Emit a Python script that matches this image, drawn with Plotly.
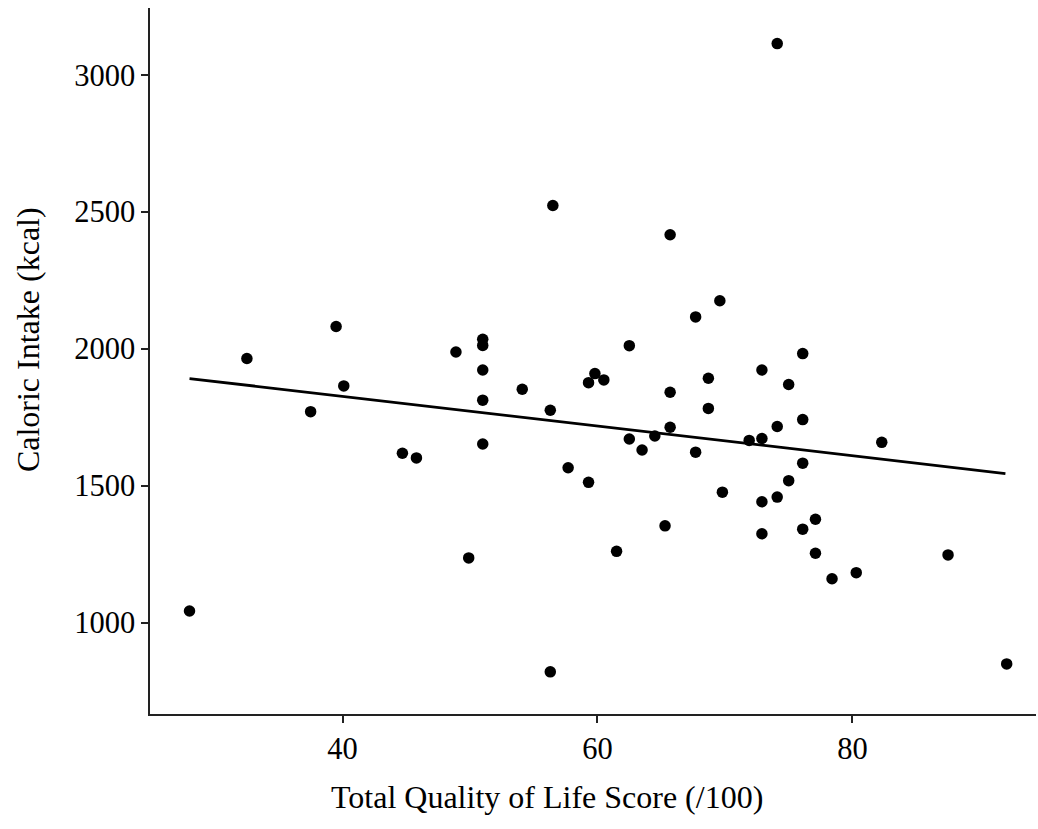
import plotly.graph_objects as go

# Quality of life score vs caloric intake, one point per participant
qol_score = [
    28.0, 32.5, 39.5, 40.1, 37.5, 44.7, 45.8, 56.5, 65.7, 69.6,
    67.7, 48.9, 51.0, 51.0, 51.0, 62.5, 54.1, 51.0, 56.3, 59.8,
    59.3, 60.5, 68.7, 65.7, 68.7, 65.7, 64.5, 62.5, 51.0, 63.5,
    67.7, 57.7, 59.3, 69.8, 65.3, 61.5, 49.9, 56.3, 74.1, 76.1,
    72.9, 75.0, 76.1, 74.1, 71.9, 72.9, 76.1, 82.3, 75.0, 74.1,
    72.9, 77.1, 76.1, 72.9, 77.1, 87.5, 80.3, 78.4, 92.1,
]
calories = [
    1042, 1964, 2081, 1864, 1770, 1618, 1601, 2523, 2416, 2175,
    2116, 1988, 2034, 2012, 1922, 2011, 1852, 1812, 1775, 1909,
    1876, 1886, 1892, 1841, 1782, 1713, 1681, 1670, 1652, 1630,
    1622, 1565, 1512, 1476, 1353, 1260, 1236, 820, 3114, 1982,
    1922, 1869, 1741, 1716, 1665, 1672, 1582, 1658, 1518, 1458,
    1441, 1377, 1341, 1324, 1253, 1247, 1182, 1160, 849,
]

# Linear trend across the observed score range
trend_x = [28.0, 92.0]
trend_y = [1891, 1544]

x_ticks = [40, 60, 80]
y_ticks = [1000, 1500, 2000, 2500, 3000]

FONT = "Liberation Serif, Times New Roman, serif"

fig = go.Figure()
fig.add_trace(go.Scatter(
    x=trend_x, y=trend_y, mode="lines",
    line=dict(color="black", width=2.8),
    hoverinfo="skip", showlegend=False,
))
fig.add_trace(go.Scatter(
    x=qol_score, y=calories, mode="markers",
    marker=dict(color="black", size=11.5, line=dict(width=0)),
    showlegend=False,
))

axis_common = dict(
    showline=True, linecolor="#222", linewidth=1.5,
    ticks="outside", ticklen=7, tickwidth=1.5, tickcolor="#222",
    showgrid=False, zeroline=False,
    tickfont=dict(family=FONT, size=30.5, color="black"),
)

fig.update_layout(
    width=1038, height=829,
    margin=dict(l=150, r=2, t=8, b=115),
    paper_bgcolor="white", plot_bgcolor="white",
    xaxis=dict(range=[24.9, 94.4], tickvals=x_ticks, **axis_common),
    yaxis=dict(range=[666, 3244], tickvals=y_ticks, **axis_common),
    annotations=[
        dict(text="Total Quality of Life Score (/100)", xref="paper", yref="paper",
             x=0.4477, y=-0.117, xanchor="center", yanchor="middle", showarrow=False,
             font=dict(family=FONT, size=32, color="black")),
        dict(text="Caloric Intake (kcal)", xref="paper", yref="paper",
             x=-0.1377, y=0.531, xanchor="center", yanchor="middle", showarrow=False,
             textangle=-90, font=dict(family=FONT, size=32, color="black")),
    ],
)

fig.write_html("out.html")
